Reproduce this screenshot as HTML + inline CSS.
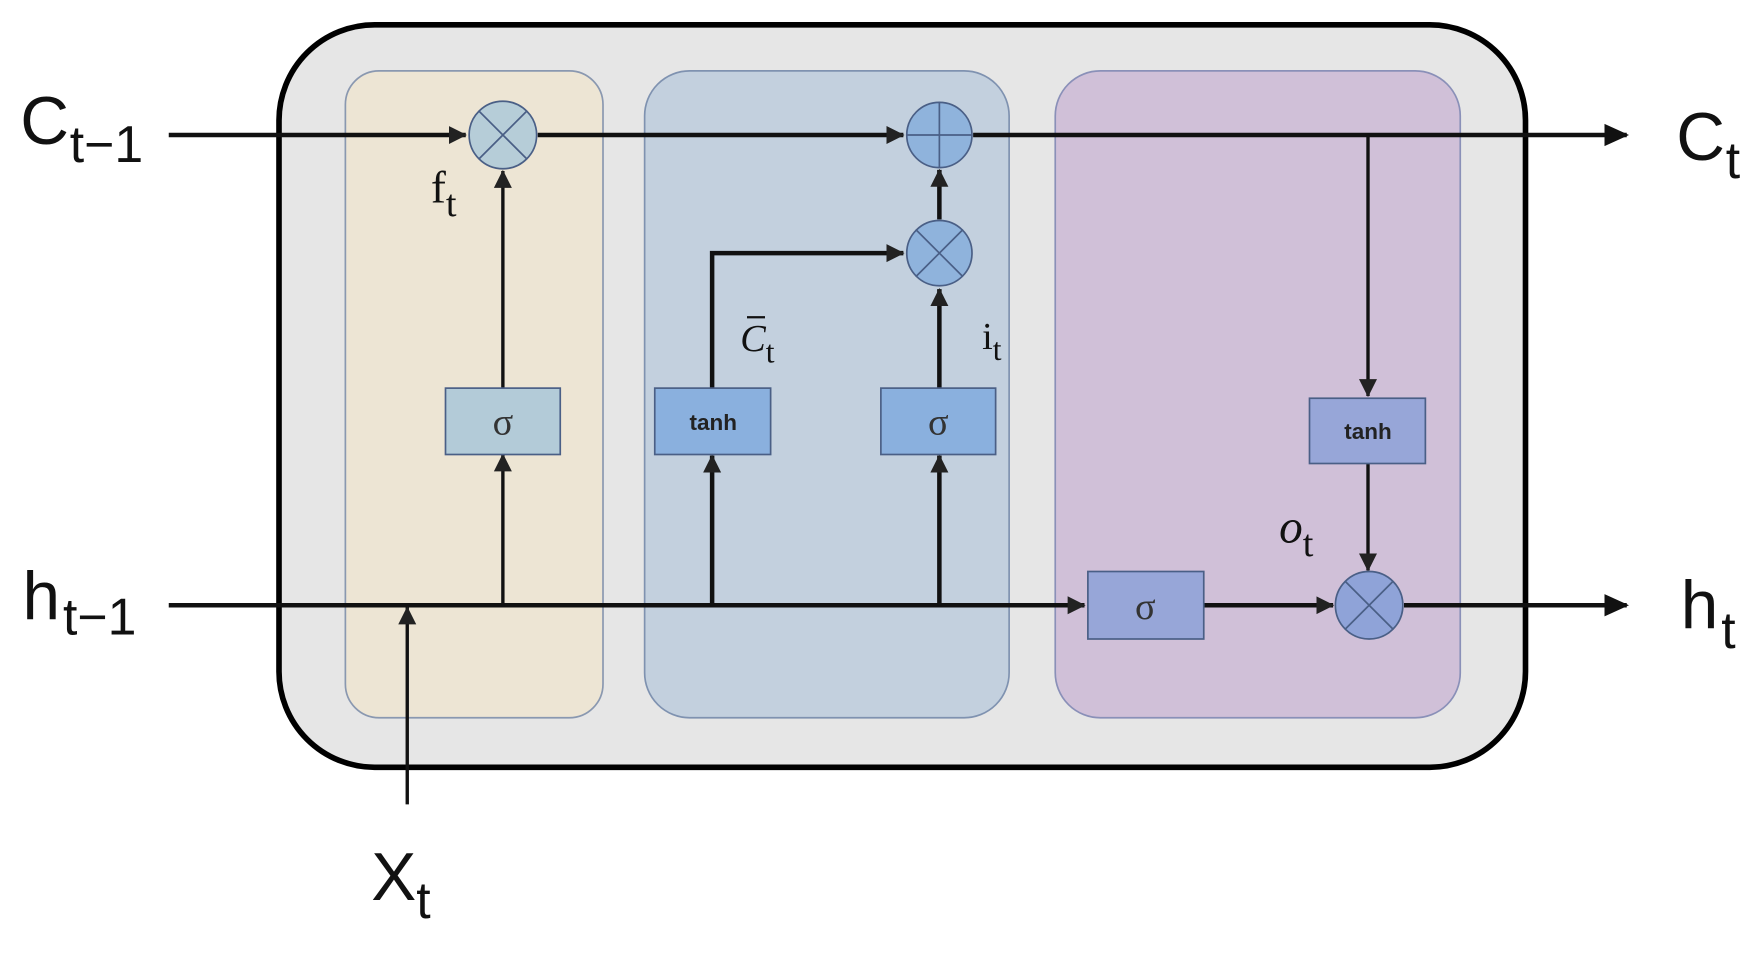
<!DOCTYPE html>
<html><head><style>html,body{margin:0;padding:0;background:#fff}svg{display:block}</style></head><body>
<svg width="1764" height="954" viewBox="0 0 1568 848" preserveAspectRatio="none" xmlns="http://www.w3.org/2000/svg" font-family="Liberation Sans, sans-serif">
<defs>
<marker id="b" markerWidth="22" markerHeight="22" refX="20" refY="11" orient="auto" markerUnits="userSpaceOnUse"><path d="M0,1 L22,11 L0,21 z" fill="#111"/></marker>
<marker id="s" markerWidth="16" markerHeight="18" refX="15" refY="9" orient="auto" markerUnits="userSpaceOnUse"><path d="M0,1 L16,9 L0,17 z" fill="#222"/></marker>
</defs>
<rect x="248" y="22" width="1108" height="660" rx="85" fill="#e6e6e6" stroke="#000" stroke-width="5"/>
<rect x="307" y="63" width="229" height="575" rx="30" fill="#ede5d4" stroke="#8a98b0" stroke-width="1.5"/>
<rect x="573" y="63" width="324" height="575" rx="40" fill="#c3d0de" stroke="#7f92b0" stroke-width="1.5"/>
<rect x="938" y="63" width="360" height="575" rx="40" fill="#d0c0d8" stroke="#8a90b8" stroke-width="1.5"/>
<g stroke="#111" stroke-width="4" fill="none">
<line x1="150" y1="120" x2="414" y2="120" marker-end="url(#s)"/>
<line x1="478" y1="120" x2="803" y2="120" marker-end="url(#s)"/>
<line x1="865" y1="120" x2="1446" y2="120" marker-end="url(#b)"/>
<line x1="1216" y1="120" x2="1216" y2="352" stroke-width="3" marker-end="url(#s)"/>
<line x1="1216" y1="412" x2="1216" y2="507" stroke-width="3" marker-end="url(#s)"/>
<line x1="150" y1="538" x2="964" y2="538" marker-end="url(#s)"/>
<line x1="1070" y1="538" x2="1185" y2="538" marker-end="url(#s)"/>
<line x1="1248" y1="538" x2="1446" y2="538" marker-end="url(#b)"/>
<line x1="447" y1="538" x2="447" y2="404" stroke-width="3" marker-end="url(#s)"/>
<line x1="447" y1="345" x2="447" y2="152" stroke-width="3" marker-end="url(#s)"/>
<line x1="633" y1="538" x2="633" y2="405" marker-end="url(#s)"/>
<polyline points="633,345 633,225 803,225" marker-end="url(#s)"/>
<line x1="835" y1="538" x2="835" y2="405" marker-end="url(#s)"/>
<line x1="835" y1="345" x2="835" y2="257" marker-end="url(#s)"/>
<line x1="835" y1="195" x2="835" y2="151" marker-end="url(#s)"/>
<line x1="362" y1="715" x2="362" y2="540" stroke-width="3" marker-end="url(#s)"/>
</g>
<g stroke="#4a5f86" stroke-width="1.5">
<circle cx="447" cy="120" r="30" fill="#b6cdd8"/>
<circle cx="835" cy="120" r="29" fill="#8fb3dc"/>
<circle cx="835" cy="225" r="29" fill="#8fb3dc"/>
<circle cx="1217" cy="538" r="30" fill="#8fa3d8"/>
<path d="M426,99 L468,141 M468,99 L426,141 M814,204 L856,246 M856,204 L814,246 M1196,517 L1238,559 M1238,517 L1196,559 M835,91 L835,149 M806,120 L864,120"/>
<rect x="396" y="345" width="102" height="59" fill="#b3cbd8"/>
<rect x="582" y="345" width="103" height="59" fill="#8ab0de"/>
<rect x="783" y="345" width="102" height="59" fill="#8ab0de"/>
<rect x="1164" y="354" width="103" height="58" fill="#97a6d8"/>
<rect x="967" y="508" width="103" height="60" fill="#97a6d8"/>
</g>
<g font-family="Liberation Serif, serif" font-size="34" fill="#333" text-anchor="middle">
<text x="447" y="386">σ</text><text x="834" y="386">σ</text><text x="1018" y="550">σ</text>
</g>
<g font-size="20" font-weight="bold" fill="#222" text-anchor="middle">
<text x="634" y="382">tanh</text><text x="1216" y="390">tanh</text>
</g>
<g fill="#111" font-size="60">
<text x="18" y="128">C</text><text x="62" y="144" font-size="46">t−1</text>
<text x="20" y="550">h</text><text x="56" y="564" font-size="46">t−1</text>
<text x="1490" y="142">C</text><text x="1534" y="158" font-size="46">t</text>
<text x="1494" y="558">h</text><text x="1530" y="576" font-size="46">t</text>
<text x="330" y="800">X</text><text x="370" y="816" font-size="46">t</text>
</g>
<g font-family="Liberation Serif, serif" fill="#111">
<text x="383" y="180" font-size="40">f<tspan font-size="34" dy="12">t</tspan></text>
<text x="658" y="312" font-size="34" font-style="italic">C<tspan font-style="normal" font-size="28" dy="10">t</tspan></text>
<line x1="664" y1="282" x2="680" y2="282" stroke="#111" stroke-width="2"/>
<text x="873" y="310" font-size="34">i<tspan font-size="28" dy="10">t</tspan></text>
<text x="1137" y="482" font-size="42" font-style="italic">o<tspan font-style="normal" font-size="34" dy="12">t</tspan></text>
</g>
</svg>
</body></html>
